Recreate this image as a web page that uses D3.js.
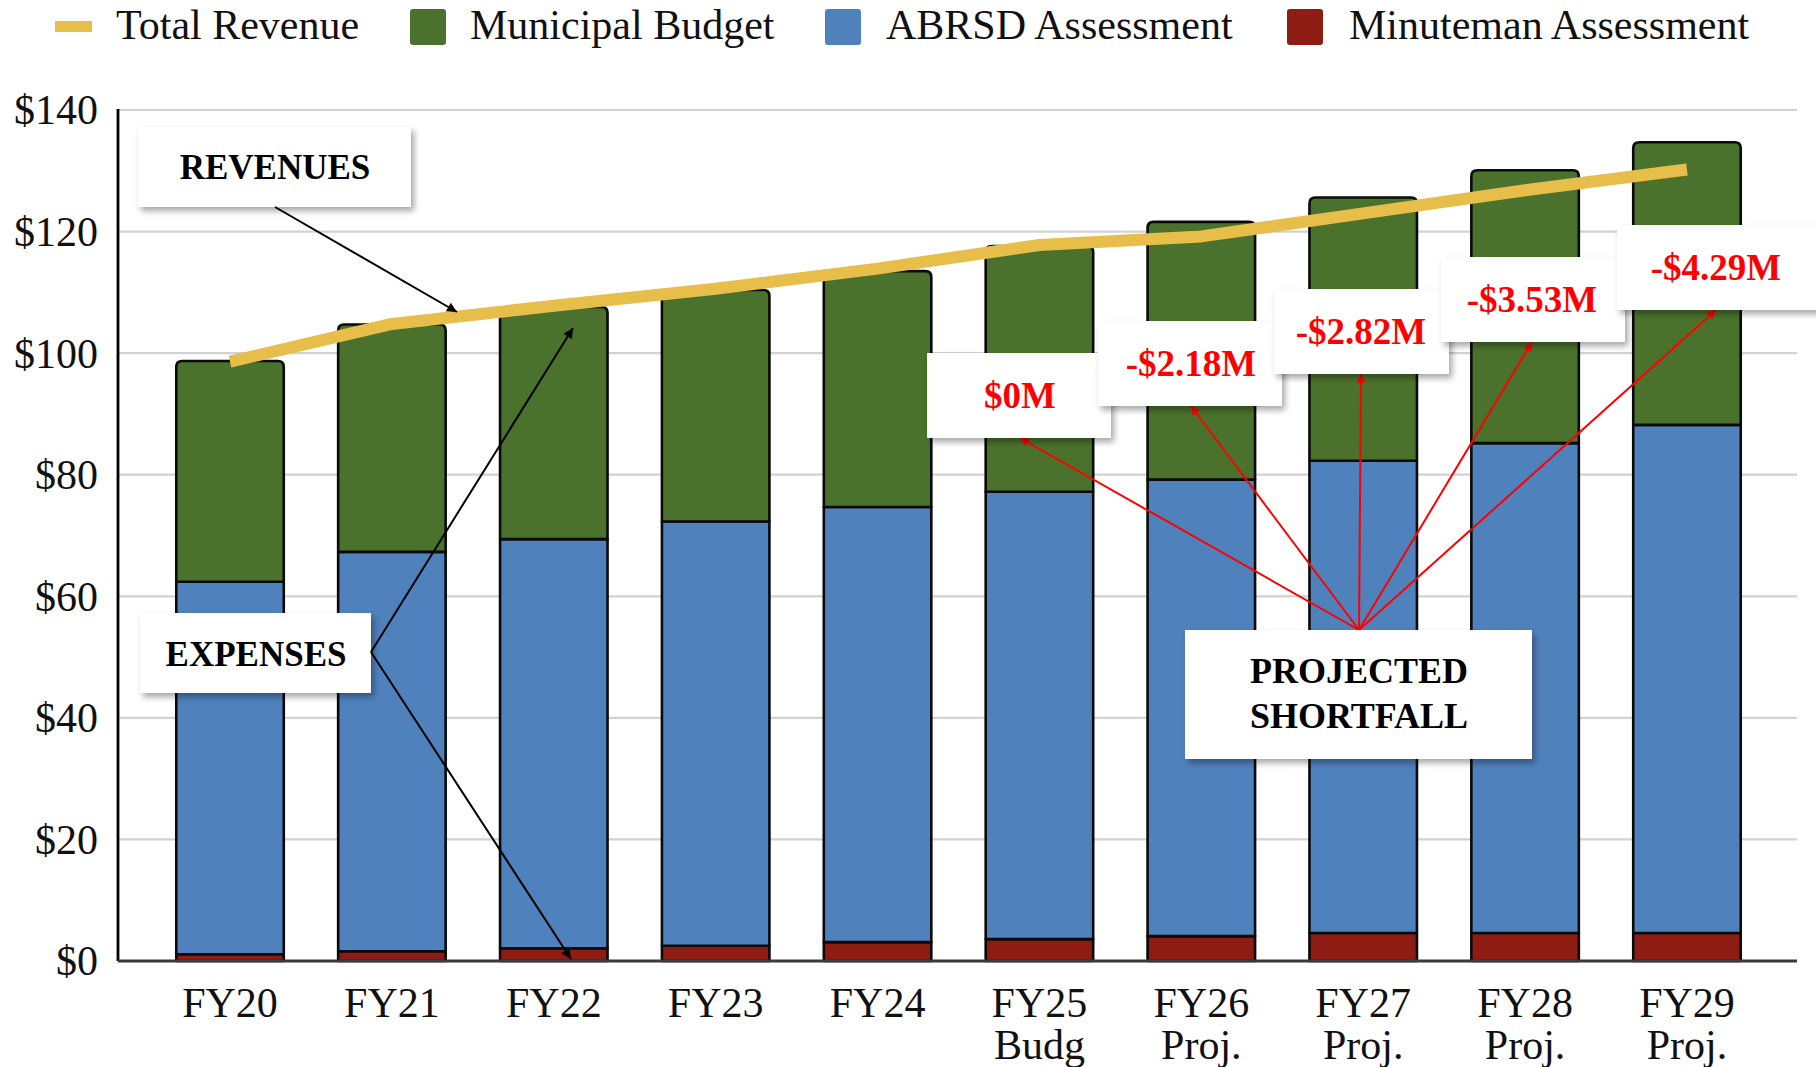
<!DOCTYPE html>
<html>
<head>
<meta charset="utf-8">
<script src="https://cdn.jsdelivr.net/npm/d3@7"></script>
<style>
  html, body { margin: 0; padding: 0; background: #fff; }
  svg { display: block; }
  text { font-family: "Liberation Serif", "Times New Roman", serif; }
</style>
</head>
<body>
<svg id="chart" width="1816" height="1067"></svg>
<script>
// ---------------- DATA ----------------
const categories = ["FY20","FY21","FY22","FY23","FY24","FY25","FY26","FY27","FY28","FY29"];
const categorySublabels = ["","","","","","Budg","Proj.","Proj.","Proj.","Proj."];
const minutemanAssessment = [1.1, 1.6, 2.1, 2.5, 3.1, 3.6, 4.1, 4.6, 4.6, 4.6];
const abrsdAssessment = [61.3, 65.7, 67.3, 69.8, 71.6, 73.6, 75.1, 77.7, 80.6, 83.6];
const municipalBudget = [36.3, 37.4, 38.2, 38.1, 38.8, 40.4, 42.4, 43.3, 44.9, 46.5];
const totalRevenue = [98.6, 104.8, 107.8, 110.6, 113.9, 117.8, 119.2, 123.0, 126.8, 130.2];
const yTicks = [0, 20, 40, 60, 80, 100, 120, 140];
const seriesNames = ["Minuteman Assessment", "ABRSD Assessment", "Municipal Budget"];
const shortfallLabels = ["$0M", "-$2.18M", "-$2.82M", "-$3.53M", "-$4.29M"];

// ---------------- STYLE / LAYOUT ----------------
const W = 1816, H = 1067;
const colors = {
  "Minuteman Assessment": "#8E1C12",
  "ABRSD Assessment": "#4F81BD",
  "Municipal Budget": "#4A722C",
  revenue: "#E8BE4A"
};
const plot = { left: 118, right: 1799, top: 110, bottom: 961 };

const svg = d3.select("#chart");
const defs = svg.append("defs");
const f = defs.append("filter").attr("id", "shadow")
  .attr("x", "-10%").attr("y", "-10%").attr("width", "130%").attr("height", "150%");
f.append("feDropShadow").attr("dx", 3).attr("dy", 4).attr("stdDeviation", 3)
  .attr("flood-color", "#000").attr("flood-opacity", 0.35);

function marker(id, color, len, wid) {
  defs.append("marker").attr("id", id)
    .attr("viewBox", "0 0 10 10").attr("refX", 10).attr("refY", 5)
    .attr("markerUnits", "userSpaceOnUse")
    .attr("markerWidth", len).attr("markerHeight", wid)
    .attr("orient", "auto")
    .append("path").attr("d", "M0,0 L10,5 L0,10 z").attr("fill", color);
}
marker("arrowBlack", "#000", 14, 10);
marker("arrowRed", "#FF0000", 14, 9);

// ---------------- SCALES ----------------
const x = d3.scaleBand().domain(categories)
  .range([plot.left, plot.right]).paddingInner(0.336).paddingOuter(0.36);
const y = d3.scaleLinear().domain([0, 140]).range([plot.bottom, plot.top]);

// ---------------- GRID ----------------
svg.append("g").selectAll("line").data(yTicks.filter(d => d > 0)).join("line")
  .attr("x1", plot.left).attr("x2", plot.right - 2)
  .attr("y1", d => y(d)).attr("y2", d => y(d))
  .attr("stroke", "#d2d2d2").attr("stroke-width", 2.2);

// ---------------- BARS ----------------
const rows = categories.map((c, i) => ({
  cat: c,
  "Minuteman Assessment": minutemanAssessment[i],
  "ABRSD Assessment": abrsdAssessment[i],
  "Municipal Budget": municipalBudget[i]
}));
const stacked = d3.stack().keys(seriesNames)(rows);
const bw = x.bandwidth();
const r = 6;

function topRounded(x0, y0, w, h, rad) {
  return `M${x0},${y0 + h} L${x0},${y0 + rad} Q${x0},${y0} ${x0 + rad},${y0} ` +
    `L${x0 + w - rad},${y0} Q${x0 + w},${y0} ${x0 + w},${y0 + rad} L${x0 + w},${y0 + h} Z`;
}

const barG = svg.append("g");
stacked.forEach((layer, li) => {
  const isTop = li === stacked.length - 1;
  barG.append("g").selectAll("path").data(layer).join("path")
    .attr("d", d => {
      const x0 = x(d.data.cat), y0 = y(d[1]), h = y(d[0]) - y(d[1]);
      return isTop ? topRounded(x0, y0, bw, h, r)
        : `M${x0},${y0} h${bw} v${h} h${-bw} Z`;
    })
    .attr("fill", colors[layer.key])
    .attr("stroke", "#0a0a0a").attr("stroke-width", 2.6)
    .attr("stroke-linejoin", "round");
});

// ---------------- AXES ----------------
svg.append("line").attr("x1", plot.left).attr("x2", plot.left)
  .attr("y1", plot.top - 1).attr("y2", plot.bottom)
  .attr("stroke", "#000").attr("stroke-width", 2.8);
svg.append("line").attr("x1", plot.left).attr("x2", plot.right - 2)
  .attr("y1", plot.bottom).attr("y2", plot.bottom)
  .attr("stroke", "#3a3a3a").attr("stroke-width", 3);

const yAxis = svg.append("g").attr("transform", `translate(${plot.left},0)`)
  .call(d3.axisLeft(y).tickValues(yTicks).tickFormat(d => "$" + d).tickSize(0).tickPadding(20));
yAxis.select(".domain").remove();
yAxis.selectAll("text").attr("font-size", 42).attr("fill", "#111")
  .attr("font-family", "Liberation Serif, Times New Roman, serif").attr("dy", "0.33em");

const xAxis = svg.append("g").attr("transform", `translate(0,${plot.bottom})`)
  .call(d3.axisBottom(x).tickSize(0).tickPadding(26));
xAxis.select(".domain").remove();
xAxis.selectAll("text").each(function (d, i) {
  const t = d3.select(this);
  t.text(null).attr("font-size", 42).attr("fill", "#111")
    .attr("font-family", "Liberation Serif, Times New Roman, serif");
  t.append("tspan").attr("x", 0).text(d);
  const sub = categorySublabels[categories.indexOf(d)];
  if (sub) t.append("tspan").attr("x", 0).attr("dy", "1.0em").text(sub);
});

// ---------------- REVENUE LINE ----------------
const line = d3.line()
  .x((d, i) => x(categories[i]) + bw / 2)
  .y(d => y(d));
svg.append("path").datum(totalRevenue).attr("d", line)
  .attr("fill", "none").attr("stroke", colors.revenue).attr("stroke-width", 12)
  .attr("stroke-linejoin", "round").attr("stroke-linecap", "butt");

// ---------------- ANNOTATIONS ----------------
const annG = svg.append("g");
function box(x0, y0, w, h) {
  annG.append("rect").attr("x", x0).attr("y", y0).attr("width", w).attr("height", h)
    .attr("fill", "#fff").attr("filter", "url(#shadow)");
}
function label(txt, cx, by, size, color) {
  annG.append("text").attr("x", cx).attr("y", by).attr("text-anchor", "middle")
    .attr("font-size", size).attr("font-weight", "bold").attr("fill", color).text(txt);
}
function arrow(x1, y1, x2, y2, color, mk) {
  annG.append("line").attr("x1", x1).attr("y1", y1).attr("x2", x2).attr("y2", y2)
    .attr("stroke", color).attr("stroke-width", 2).attr("marker-end", `url(#${mk})`);
}

// REVENUES
box(138, 127, 273, 80);
label("REVENUES", 275, 179, 35, "#000");
arrow(275, 207, 457, 312, "#000", "arrowBlack");

// EXPENSES
box(140, 613, 231, 80);
label("EXPENSES", 256, 666, 35, "#000");
arrow(371, 652, 573, 328, "#000", "arrowBlack");
arrow(371, 652, 571, 959, "#000", "arrowBlack");

// Shortfall boxes
const sfBoxes = [
  { x: 927, y: 353, w: 184, tip: [1020, 438] },
  { x: 1098, y: 321, w: 184, tip: [1191, 406] },
  { x: 1274, y: 289, w: 175, tip: [1361, 374] },
  { x: 1441, y: 257, w: 184, tip: [1532, 342] },
  { x: 1617, y: 225, w: 205, tip: [1716, 310] }
];
const origin = [1359, 630];
sfBoxes.forEach(b => arrow(origin[0], origin[1], b.tip[0], b.tip[1], "#FF0000", "arrowRed"));
sfBoxes.forEach((b, i) => {
  box(b.x, b.y, b.w, 85);
  label(shortfallLabels[i], b.tip[0], b.y + 55, 37, "#FF0000");
});

// PROJECTED SHORTFALL
box(1185, 630, 347, 129);
label("PROJECTED", 1359, 683, 36, "#000");
label("SHORTFALL", 1359, 728, 36, "#000");

// ---------------- LEGEND ----------------
const legG = svg.append("g");
const legendItems = [
  { name: "Total Revenue", type: "line", color: colors.revenue, sx: 55, tx: 116 },
  { name: "Municipal Budget", type: "box", color: colors["Municipal Budget"], sx: 410, tx: 470 },
  { name: "ABRSD Assessment", type: "box", color: colors["ABRSD Assessment"], sx: 825, tx: 886 },
  { name: "Minuteman Assessment", type: "box", color: colors["Minuteman Assessment"], sx: 1287, tx: 1349 }
];
legendItems.forEach(it => {
  if (it.type === "line") {
    legG.append("rect").attr("x", it.sx).attr("y", 21).attr("width", 37).attr("height", 11)
      .attr("fill", it.color);
  } else {
    legG.append("rect").attr("x", it.sx).attr("y", 9).attr("width", 36).attr("height", 36)
      .attr("rx", 3).attr("fill", it.color);
  }
  legG.append("text").attr("x", it.tx).attr("y", 39).attr("font-size", 42)
    .attr("fill", "#111").text(it.name);
});
</script>
</body>
</html>
